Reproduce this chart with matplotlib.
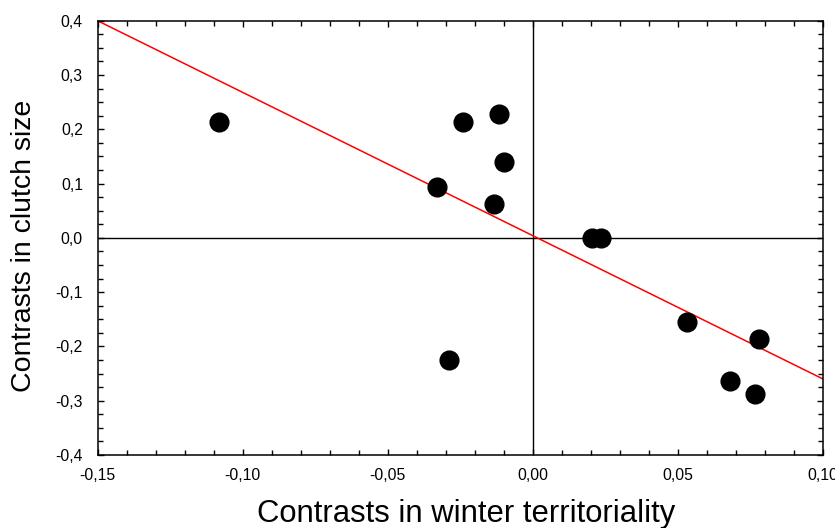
import matplotlib
matplotlib.use('Agg')
import matplotlib.pyplot as plt
from matplotlib.ticker import MultipleLocator, FuncFormatter

# independent contrasts
winter_terr = [-0.108, -0.024, -0.0115, -0.010, -0.033, -0.0135, 0.0205, 0.0235,
               -0.029, 0.053, 0.078, 0.068, 0.0765]
clutch_size = [0.213, 0.214, 0.229, 0.139, 0.094, 0.062, 0.000, 0.000,
               -0.225, -0.155, -0.187, -0.264, -0.287]

# fitted regression line end points
fit_x = [-0.15, 0.10]
fit_y = [0.40, -0.26]

plt.rcParams['font.family'] = ['Liberation Sans', 'DejaVu Sans']


def comma_fmt(decimals):
    def f(v, pos):
        s = '{:.{}f}'.format(v, decimals)
        if s.lstrip('-').strip('0,.') == '':
            s = s.lstrip('-')
        return s.replace('.', ',')
    return FuncFormatter(f)


fig = plt.figure(figsize=(8.35, 5.28), dpi=100)
ax = fig.add_axes([0.1168, 0.1383, 0.8688, 0.8225])

ax.axhline(0, color='black', lw=1.0, zorder=1)
ax.axvline(0, color='black', lw=1.0, zorder=1)
ax.plot(fit_x, fit_y, color='#ff0000', lw=1.1, zorder=2)
ax.plot(winter_terr, clutch_size, 'o', color='black', markersize=13.5, zorder=3)

ax.set_xlim(-0.15, 0.10)
ax.set_ylim(-0.4, 0.4)
ax.xaxis.set_major_locator(MultipleLocator(0.05))
ax.xaxis.set_minor_locator(MultipleLocator(0.01))
ax.yaxis.set_major_locator(MultipleLocator(0.1))
ax.yaxis.set_minor_locator(MultipleLocator(0.025))
ax.xaxis.set_major_formatter(comma_fmt(2))
ax.yaxis.set_major_formatter(comma_fmt(1))

ax.tick_params(which='both', direction='in', top=True, right=True, width=1.0,
               labelsize=11.3, color='black')
ax.tick_params(which='major', length=4.5)
ax.tick_params(which='minor', length=3.5)
ax.tick_params(axis='x', which='major', pad=9.5)
ax.tick_params(axis='y', which='major', pad=10.5)
for sp in ax.spines.values():
    sp.set_linewidth(1.1)

ax.set_xlabel('Contrasts in winter territoriality', fontsize=22.3)
ax.xaxis.set_label_coords(0.508, -0.102)
ax.set_ylabel('Contrasts in clutch size', fontsize=20.5)
ax.yaxis.set_label_coords(-0.083, 0.481)

fig.savefig('out.png', dpi=100)
